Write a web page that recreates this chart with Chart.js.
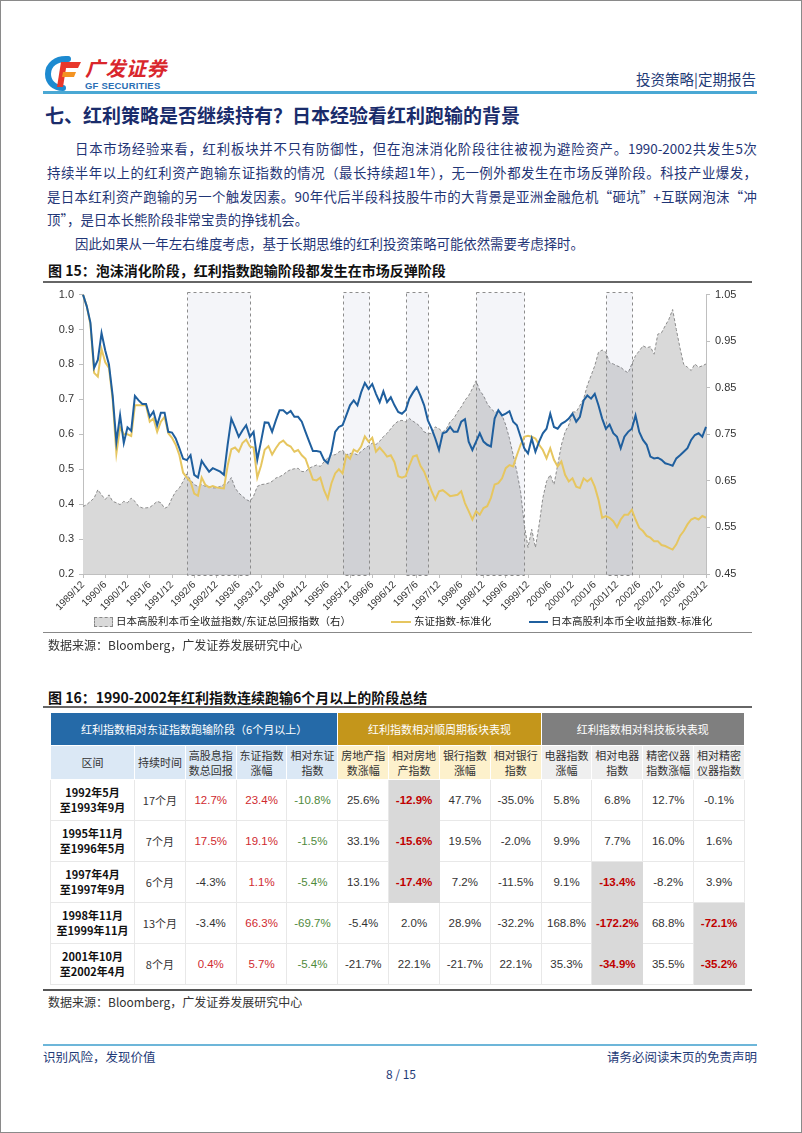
<!DOCTYPE html>
<html lang="zh-CN">
<head>
<meta charset="utf-8">
<title>红利策略是否继续持有</title>
<script src="https://cdn.jsdelivr.net/npm/chart.js@4.4.1/dist/chart.umd.min.js"></script>
<style>
  html, body { margin: 0; padding: 0; background: #fff; }
  #page { position: relative; width: 802px; height: 1133px; overflow: hidden;
    font-family: "Noto Sans CJK SC", "Liberation Sans", sans-serif; }
  #frame { position: absolute; left: 0; top: 0; right: 0; bottom: 0; border: 1px solid #8a8a8a; }
  .abs { position: absolute; white-space: nowrap; }
  .rule { position: absolute; }
  .ln { position: absolute; left: 47px; width: 710px; height: 24px; line-height: 24px;
    font-size: 13.4px; color: #1f3576; text-align: justify; text-align-last: justify; }
  .ln.last { text-align-last: left; }
  .ln.ind { padding-left: 28px; box-sizing: border-box; }
  .figt { position: absolute; left: 48px; font-size: 14px; font-weight: bold; color: #111; line-height: 20px; }
  .src { position: absolute; left: 48px; font-size: 12px; color: #333; line-height: 16px; }
  .lg { position: absolute; top: 613px; height: 16px; line-height: 16px; font-size: 10.5px; color: #222; white-space: nowrap; }
  .lg i { display: inline-block; vertical-align: middle; margin-right: 3px; }
  table.t { position: absolute; left: 50px; top: 712px; width: 695px; border-collapse: collapse; table-layout: fixed; }
  .t td { border: 1px solid #e8e8e8; text-align: center; padding: 0; font-size: 11.5px; color: #333;
    font-family: "Liberation Sans", Arial, sans-serif; }
  .t tr.h1 td { height: 32px; color: #fff; font-family: "Noto Sans CJK SC", sans-serif; font-size: 11px; border-color: #fff; }
  .t tr.h2 td { height: 33px; font-family: "Noto Sans CJK SC", sans-serif; font-size: 11px; line-height: 15px; color: #333; border-color: #fff; }
  .t tr.b td { height: 40px; }
  .t td.per { font-family: "Noto Sans CJK SC", sans-serif; font-weight: bold; font-size: 11px; line-height: 15px; color: #111; }
  .t td.red { color: #d02a2f; }
  .t td.grn { color: #4f8a3c; }
  .t td.hl { background: #d9d9d9; color: #c00000; font-weight: bold; border-color: #d9d9d9; }
</style>
</head>
<body>
<div id="page">
  <div id="frame"></div>

  <!-- header -->
  <svg class="abs" style="left:44px;top:55px" width="40" height="36" viewBox="0 0 40 36">
    <path d="M24 4 C12 3 4 10 4 19 C4 27 10 33 19 33" fill="none" stroke="#1d8ad0" stroke-width="6" stroke-linecap="round"/>
    <path d="M17 7 H37 L34 13 H20 Z" fill="#e8382b"/>
    <path d="M17 7 H23 L19 32 H13 Z" fill="#e8382b"/>
    <path d="M19 17 H32 L30 22 H18 Z" fill="#f39322"/>
  </svg>
  <div class="abs" style="left:85px;top:56px;font-size:20px;line-height:24px;font-weight:bold;color:#d9262c;font-style:italic;letter-spacing:0.5px">广发证券</div>
  <div class="abs" style="left:85px;top:80px;font-size:9.5px;line-height:12px;font-weight:bold;color:#2a6fb5;font-family:'Liberation Sans',sans-serif;letter-spacing:0.2px">GF SECURITIES</div>
  <div class="abs" style="right:46px;top:69px;font-size:14.5px;line-height:20px;color:#1f3b77">投资策略|定期报告</div>
  <div class="rule" style="left:43px;top:91px;width:714px;height:2.5px;background:#4aa8d4"></div>

  <div class="abs" style="left:45px;top:102px;font-size:19px;line-height:26px;font-weight:bold;color:#1a2c6b">七、红利策略是否继续持有？日本经验看红利跑输的背景</div>

  <div class="ln ind" style="top:136px">日本市场经验来看，红利板块并不只有防御性，但在泡沫消化阶段往往被视为避险资产。1990-2002共发生5次</div>
  <div class="ln" style="top:160px">持续半年以上的红利资产跑输东证指数的情况（最长持续超1年），无一例外都发生在市场反弹阶段。科技产业爆发，</div>
  <div class="ln" style="top:184px">是日本红利资产跑输的另一个触发因素。90年代后半段科技股牛市的大背景是亚洲金融危机“砸坑”+互联网泡沫“冲</div>
  <div class="ln last" style="top:207px">顶”，是日本长熊阶段非常宝贵的挣钱机会。</div>
  <div class="ln ind last" style="top:231px">因此如果从一年左右维度考虑，基于长期思维的红利投资策略可能依然需要考虑择时。</div>

  <!-- figure 15 -->
  <div class="figt" style="top:260px">图 15：泡沫消化阶段，红利指数跑输阶段都发生在市场反弹阶段</div>
  <div class="rule" style="left:43px;top:281px;width:709px;height:1.5px;background:#666"></div>
  <div class="abs" style="left:43px;top:283px;width:716px;height:332px">
    <canvas id="dividendChart" width="716" height="332"></canvas>
  </div>
  <div class="lg" style="left:94px"><i style="width:17px;height:8px;background:#d9d9d9;border:1px dashed #888"></i><span id="lg0"></span></div>
  <div class="lg" style="left:391px"><i style="width:20px;height:2px;background:#e6c660"></i><span id="lg1"></span></div>
  <div class="lg" style="left:529px"><i style="width:19px;height:2px;background:#1f5f9e"></i><span id="lg2"></span></div>
  <div class="rule" style="left:43px;top:632px;width:709px;height:1px;background:#888"></div>
  <div class="src" style="top:637px">数据来源：Bloomberg，广发证券发展研究中心</div>

  <!-- figure 16 -->
  <div class="figt" style="top:687px">图 16：1990-2002年红利指数连续跑输6个月以上的阶段总结</div>
  <div class="rule" style="left:43px;top:706px;width:709px;height:1.5px;background:#666"></div>
  <table class="t" id="lagTable"></table>
  <div class="rule" style="left:43px;top:989px;width:709px;height:2px;background:#555"></div>
  <div class="src" style="top:994px">数据来源：Bloomberg，广发证券发展研究中心</div>

  <!-- footer -->
  <div class="rule" style="left:43px;top:1044px;width:714px;height:2px;background:#6db6d9"></div>
  <div class="abs" style="left:43px;top:1049px;font-size:12.5px;line-height:16px;color:#1f3b77">识别风险，发现价值</div>
  <div class="abs" style="right:45px;top:1049px;font-size:12.5px;line-height:16px;color:#1f3b77">请务必阅读末页的免责声明</div>
  <div class="abs" style="left:0;width:802px;text-align:center;top:1066px;font-size:12px;line-height:16px;color:#1f3b77">8 / 15</div>
</div>

<script>
// monthly categories 1989/12 .. 2003/12
const months = [];
for (let y = 1989, m = 12; months.length < 169; ) {
  months.push(y + '/' + m);
  m++;
  if (m > 12) { m = 1; y++; }
}

const leftTicks = [0.2, 0.3, 0.4, 0.5, 0.6, 0.7, 0.8, 0.9, 1.0];
const rightTicks = [0.45, 0.55, 0.65, 0.75, 0.85, 0.95, 1.05];

// 日本高股利本币全收益指数-标准化
const highDivNorm = [
  1.0, 0.967, 0.92, 0.79, 0.813, 0.89, 0.84, 0.80, 0.71, 0.578,
  0.655, 0.575, 0.62, 0.61, 0.71, 0.697, 0.687, 0.687, 0.65, 0.665,
  0.626, 0.662, 0.662, 0.607, 0.605, 0.588, 0.56, 0.53, 0.526, 0.54,
  0.484, 0.476, 0.524, 0.508, 0.493, 0.503, 0.498, 0.493, 0.484, 0.57,
  0.645, 0.62, 0.593, 0.611, 0.626, 0.593, 0.607, 0.527, 0.579, 0.634,
  0.633, 0.607, 0.64, 0.669, 0.669, 0.659, 0.667, 0.65, 0.65, 0.636,
  0.607, 0.579, 0.552, 0.552, 0.55, 0.527, 0.517, 0.55, 0.607, 0.621,
  0.626, 0.654, 0.683, 0.697, 0.683, 0.72, 0.747, 0.73, 0.744, 0.716,
  0.692, 0.723, 0.692, 0.706, 0.683, 0.664, 0.659, 0.669, 0.702, 0.72,
  0.735, 0.711, 0.683, 0.64, 0.616, 0.588, 0.555, 0.603, 0.607, 0.621,
  0.607, 0.607, 0.636, 0.643, 0.579, 0.555, 0.579, 0.603, 0.579, 0.57,
  0.565, 0.645, 0.669, 0.654, 0.659, 0.666, 0.636, 0.626, 0.593, 0.56,
  0.545, 0.588, 0.55, 0.579, 0.603, 0.616, 0.659, 0.621, 0.616, 0.63,
  0.636, 0.645, 0.659, 0.636, 0.65, 0.697, 0.711, 0.702, 0.716, 0.683,
  0.645, 0.616, 0.628, 0.603, 0.593, 0.56, 0.593, 0.607, 0.616, 0.654,
  0.607, 0.584, 0.57, 0.536, 0.531, 0.533, 0.527, 0.517, 0.514, 0.51,
  0.531, 0.54, 0.55, 0.56, 0.584, 0.598, 0.603, 0.593, 0.621
];

// 东证指数-标准化
const topixNorm = [
  1.0, 0.967, 0.915, 0.776, 0.765, 0.844, 0.806, 0.79, 0.70, 0.545,
  0.62, 0.6, 0.6, 0.595, 0.683, 0.683, 0.683, 0.683, 0.636, 0.645,
  0.607, 0.636, 0.65, 0.603, 0.59, 0.57, 0.54, 0.49, 0.476, 0.465,
  0.43, 0.424, 0.476, 0.455, 0.448, 0.452, 0.448, 0.446, 0.445, 0.51,
  0.557, 0.562, 0.55, 0.575, 0.585, 0.565, 0.562, 0.476, 0.51, 0.556,
  0.566, 0.542, 0.56, 0.575, 0.582, 0.57, 0.565, 0.55, 0.555, 0.54,
  0.53, 0.5, 0.47, 0.468, 0.476, 0.44, 0.416, 0.46, 0.488, 0.5,
  0.488, 0.54, 0.53, 0.556, 0.55, 0.565, 0.594, 0.579, 0.59, 0.55,
  0.562, 0.55, 0.536, 0.54, 0.52, 0.48, 0.476, 0.48, 0.51, 0.536,
  0.54, 0.51, 0.493, 0.465, 0.437, 0.413, 0.437, 0.44, 0.432, 0.423,
  0.425, 0.427, 0.437, 0.403, 0.38, 0.356, 0.38, 0.37, 0.389, 0.394,
  0.418, 0.456, 0.46, 0.474, 0.503, 0.512, 0.508, 0.54, 0.57, 0.593,
  0.596, 0.593, 0.588, 0.57, 0.555, 0.531, 0.56, 0.527, 0.508, 0.522,
  0.484, 0.465, 0.474, 0.45, 0.446, 0.474, 0.465, 0.474, 0.45, 0.413,
  0.361, 0.366, 0.361, 0.351, 0.334, 0.356, 0.37, 0.37, 0.384, 0.356,
  0.332, 0.323, 0.309, 0.304, 0.294, 0.294, 0.283, 0.28, 0.275, 0.27,
  0.285, 0.309, 0.323, 0.342, 0.356, 0.361, 0.356, 0.366, 0.361
];

// 日本高股利本币全收益指数/东证总回报指数（右轴）
const ratioRight = [
  0.595, 0.599, 0.606, 0.613, 0.631, 0.62, 0.61, 0.62, 0.606, 0.603,
  0.599, 0.606, 0.603, 0.613, 0.606, 0.595, 0.592, 0.592, 0.593, 0.599,
  0.606, 0.603, 0.591, 0.595, 0.613, 0.627, 0.635, 0.649, 0.665, 0.652,
  0.642, 0.638, 0.642, 0.638, 0.638, 0.635, 0.635, 0.638, 0.642, 0.645,
  0.657, 0.635, 0.624, 0.617, 0.61, 0.606, 0.617, 0.638, 0.642, 0.643,
  0.645, 0.649, 0.656, 0.659, 0.663, 0.67, 0.674, 0.676, 0.677, 0.67,
  0.67, 0.677, 0.681, 0.684, 0.681, 0.691, 0.699, 0.706, 0.706, 0.712,
  0.716, 0.706, 0.709, 0.709, 0.706, 0.713, 0.72, 0.725, 0.731, 0.728,
  0.735, 0.745, 0.752, 0.762, 0.772, 0.778, 0.78, 0.777, 0.784, 0.778,
  0.773, 0.766, 0.755, 0.752, 0.752, 0.766, 0.762, 0.755, 0.762, 0.777,
  0.784, 0.798, 0.809, 0.823, 0.833, 0.848, 0.865, 0.844, 0.833, 0.816,
  0.805, 0.798, 0.798, 0.791, 0.77, 0.741, 0.706, 0.67, 0.627, 0.556,
  0.507, 0.546, 0.507, 0.556, 0.613, 0.649, 0.663, 0.642, 0.684, 0.727,
  0.755, 0.77, 0.798, 0.798, 0.812, 0.826, 0.855, 0.876, 0.897, 0.926,
  0.931, 0.926, 0.904, 0.901, 0.897, 0.894, 0.887, 0.882, 0.901, 0.919,
  0.929, 0.94, 0.936, 0.938, 0.922, 0.965, 0.968, 0.983, 0.997, 1.018,
  0.975, 0.935, 0.9, 0.894, 0.887, 0.901, 0.894, 0.897, 0.901
];

// underperformance periods (shaded boxes)
const lagStart = ['1992/4', '1995/10', '1997/3', '1998/10', '2001/9'];
const lagEnd = ['1993/9', '1996/5', '1997/9', '1999/11', '2002/4'];

const seriesNames = [
  '日本高股利本币全收益指数-标准化',
  '东证指数-标准化',
  '日本高股利本币全收益指数/东证总回报指数（右）'
];

const lagBoxes = {
  id: 'lagBoxes',
  afterDatasetDraw(chart, args) {
    if (args.index !== 2) return;
    const xs = chart.scales.x;
    const area = chart.chartArea;
    const ctx = chart.ctx;
    ctx.save();
    lagStart.forEach((s, i) => {
      const x0 = Math.round(xs.getPixelForValue(months.indexOf(s))) + 0.5;
      const x1 = Math.round(xs.getPixelForValue(months.indexOf(lagEnd[i]))) + 0.5;
      const top = Math.round(area.top) - 2.5;
      const bottom = Math.round(area.bottom) + 1.5;
      ctx.fillStyle = 'rgba(60, 90, 160, 0.06)';
      ctx.fillRect(x0, top, x1 - x0, bottom - top);
      ctx.setLineDash([3, 3]);
      ctx.strokeStyle = '#8c8c8c';
      ctx.lineWidth = 1;
      ctx.strokeRect(x0, top, x1 - x0, bottom - top);
    });
    ctx.restore();
  }
};

const tickFont = { family: "'Liberation Sans', Arial, sans-serif", size: 11 };
const axisGrid = { display: true, drawOnChartArea: false, drawTicks: true, tickLength: 4, color: '#bfbfbf' };

new Chart(document.getElementById('dividendChart'), {
  type: 'line',
  data: {
    labels: months,
    datasets: [
      {
        label: seriesNames[0],
        data: highDivNorm,
        yAxisID: 'y',
        borderColor: '#1f5f9e',
        borderWidth: 2,
        pointRadius: 0,
        fill: false,
        order: 1
      },
      {
        label: seriesNames[1],
        data: topixNorm,
        yAxisID: 'y',
        borderColor: '#e6c660',
        borderWidth: 2,
        pointRadius: 0,
        fill: false,
        order: 2
      },
      {
        label: seriesNames[2],
        data: ratioRight,
        yAxisID: 'y1',
        borderColor: '#8c8c8c',
        borderWidth: 1,
        borderDash: [3, 2],
        backgroundColor: '#d9d9d9',
        pointRadius: 0,
        fill: 'start',
        order: 3
      }
    ]
  },
  options: {
    responsive: false,
    animation: false,
    devicePixelRatio: 1,
    layout: { padding: { top: 9, left: 0, right: 0, bottom: 0 } },
    plugins: { legend: { display: false }, tooltip: { enabled: false } },
    scales: {
      x: {
        type: 'category',
        grid: axisGrid,
        border: { display: true, color: '#bfbfbf' },
        afterBuildTicks: (s) => { s.ticks = s.ticks.filter(t => t.value % 6 === 0); },
        afterFit: (s) => { s.height = 41; },
        ticks: {
          autoSkip: false,
          minRotation: 45,
          maxRotation: 45,
          padding: 1,
          color: '#333',
          font: { family: tickFont.family, size: 10 }
        }
      },
      y: {
        position: 'left',
        min: 0.2,
        max: 1.0,
        grid: axisGrid,
        border: { display: true, color: '#bfbfbf' },
        afterBuildTicks: (s) => { s.ticks = leftTicks.map(v => ({ value: v })); },
        afterFit: (s) => { s.width = 40; },
        ticks: { padding: 5, color: '#333', font: tickFont, callback: (v) => v.toFixed(1) }
      },
      y1: {
        position: 'right',
        min: 0.45,
        max: 1.05,
        grid: axisGrid,
        border: { display: true, color: '#bfbfbf' },
        afterBuildTicks: (s) => { s.ticks = rightTicks.map(v => ({ value: v })); },
        afterFit: (s) => { s.width = 53; },
        ticks: { padding: 5, color: '#333', font: tickFont, callback: (v) => v.toFixed(2) }
      }
    }
  },
  plugins: [lagBoxes]
});

document.getElementById('lg0').textContent = seriesNames[2];
document.getElementById('lg1').textContent = seriesNames[1];
document.getElementById('lg2').textContent = seriesNames[0];

// table for figure 16
const groupHeads = [
  ['红利指数相对东证指数跑输阶段（6个月以上）', 5, '#256aa8'],
  ['红利指数相对顺周期板块表现', 4, '#c4961b'],
  ['红利指数相对科技板块表现', 4, '#7f7f7f']
];
const colHeads = ['区间', '持续时间', '高股息指<br>数总回报', '东证指数<br>涨幅', '相对东证<br>指数',
  '房地产指<br>数涨幅', '相对房地<br>产指数', '银行指数<br>涨幅', '相对银行<br>指数',
  '电器指数<br>涨幅', '相对电器<br>指数', '精密仪器<br>指数涨幅', '相对精密<br>仪器指数'];
const colBg = ['#dbe8f5', '#dbe8f5', '#dbe8f5', '#dbe8f5', '#dbe8f5',
  '#fdf1cc', '#fdf1cc', '#fdf1cc', '#fdf1cc', '#efefef', '#efefef', '#efefef', '#efefef'];
const periodRows = [['1992年5月', '至1993年9月'], ['1995年11月', '至1996年5月'], ['1997年4月', '至1997年9月'],
  ['1998年11月', '至1999年11月'], ['2001年10月', '至2002年4月']];
const durations = ['17个月', '7个月', '6个月', '13个月', '8个月'];
const tableValues = [
  ['12.7%', '23.4%', '-10.8%', '25.6%', '-12.9%', '47.7%', '-35.0%', '5.8%', '6.8%', '12.7%', '-0.1%'],
  ['17.5%', '19.1%', '-1.5%', '33.1%', '-15.6%', '19.5%', '-2.0%', '9.9%', '7.7%', '16.0%', '1.6%'],
  ['-4.3%', '1.1%', '-5.4%', '13.1%', '-17.4%', '7.2%', '-11.5%', '9.1%', '-13.4%', '-8.2%', '3.9%'],
  ['-3.4%', '66.3%', '-69.7%', '-5.4%', '2.0%', '28.9%', '-32.2%', '168.8%', '-172.2%', '68.8%', '-72.1%'],
  ['0.4%', '5.7%', '-5.4%', '-21.7%', '22.1%', '-21.7%', '22.1%', '35.3%', '-34.9%', '35.5%', '-35.2%']
];
const highlighted = [[0, 4], [1, 4], [2, 4], [2, 8], [3, 8], [4, 8], [3, 10], [4, 10]];

let html = '<colgroup><col style="width:84px">' + '<col>'.repeat(12) + '</colgroup>';
html += '<tr class="h1">' + groupHeads.map(g =>
  `<td colspan="${g[1]}" style="background:${g[2]}">${g[0]}</td>`).join('') + '</tr>';
html += '<tr class="h2">' + colHeads.map((h, i) =>
  `<td style="background:${colBg[i]}">${h}</td>`).join('') + '</tr>';
tableValues.forEach((row, r) => {
  html += `<tr class="b"><td class="per">${periodRows[r][0]}<br>${periodRows[r][1]}</td>`;
  html += `<td style="font-family:'Noto Sans CJK SC',sans-serif;font-size:11px">${durations[r]}</td>`;
  row.forEach((v, c) => {
    let cls = '';
    if (highlighted.some(h => h[0] === r && h[1] === c)) cls = 'hl';
    else if ((c === 0 || c === 1) && parseFloat(v) > 0) cls = 'red';
    else if (c === 2) cls = 'grn';
    html += `<td class="${cls}">${v}</td>`;
  });
  html += '</tr>';
});
document.getElementById('lagTable').innerHTML = html;
</script>
</body>
</html>
